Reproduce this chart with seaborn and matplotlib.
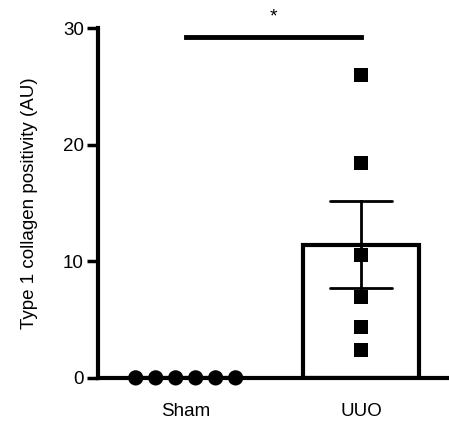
import pandas as pd
import numpy as np
import matplotlib
matplotlib.use("Agg")
import matplotlib.pyplot as plt
import seaborn as sns

# ============================================================
# DATA
# ============================================================

groups      = ["Sham", "UUO"]
sham_values = [0, 0, 0, 0, 0, 0]
uuo_values  = [26.0, 18.4, 10.5, 6.9, 4.4, 2.4]
y_ticks     = [0, 10, 20, 30]
y_label     = "Type 1 collagen positivity (AU)"
sig_pair    = ["Sham", "UUO"]
sig_level   = 29.2
sig_text    = "*"

df = pd.DataFrame({
    "group": ["Sham"] * len(sham_values) + ["UUO"] * len(uuo_values),
    "value": sham_values + uuo_values,
})

# ============================================================
# PLOT
# ============================================================

sns.set_theme(style="ticks")
plt.rcParams["font.family"]     = ["Liberation Sans", "DejaVu Sans"]
plt.rcParams["text.color"]      = "black"
plt.rcParams["axes.labelcolor"] = "black"
plt.rcParams["axes.edgecolor"]  = "black"
plt.rcParams["xtick.color"]     = "black"
plt.rcParams["ytick.color"]     = "black"

fig = plt.figure(figsize=(4.49, 4.26), dpi=100)
ax = fig.add_axes([0.218, 0.113, 0.782, 0.821])

sns.barplot(data=df, x="group", y="value", order=groups,
            errorbar="se", capsize=0.35, width=0.66,
            fill=False, color="black", linewidth=3,
            err_kws={"linewidth": 2, "color": "black"}, ax=ax)

ax.set_xlim(-0.5, 1.5)
ax.set_ylim(0, 30)

n_before = len(ax.collections)
sns.swarmplot(data=df[df["group"] == "Sham"], x="group", y="value",
              order=groups, marker="o", color="black", size=11,
              linewidth=2.7, edgecolor="none", ax=ax)
ax.set_xlim(-0.5, 1.5)
ax.set_ylim(0, 30)
fig.canvas.draw()  # swarm positions are computed at draw time

# freeze the swarm and centre it on its category
for coll in ax.collections[n_before:]:
    if "draw" in coll.__dict__:
        del coll.draw
    offs = np.array(coll.get_offsets())
    if len(offs):
        offs[:, 0] += groups.index("Sham") - offs[:, 0].mean()
        coll.set_offsets(offs)

sns.stripplot(data=df[df["group"] == "UUO"], x="group", y="value",
              order=groups, marker="s", color="black", size=10,
              jitter=False, linewidth=0, ax=ax)

for coll in ax.collections:
    if len(coll.get_offsets()):
        coll.set_clip_on(False)
        coll.set_zorder(5)

# significance bar
x_pos = [groups.index(g) for g in sig_pair]
ax.plot(x_pos, [sig_level, sig_level], color="black", linewidth=3.5,
        solid_capstyle="projecting", clip_on=False)
ax.text(np.mean(x_pos), sig_level + 1.0, sig_text, ha="center", va="bottom",
        fontsize=14)

ax.set_xlim(-0.5, 1.5)
ax.set_ylim(0, 30)
ax.set_yticks(y_ticks)
ax.set_xlabel("")
ax.set_ylabel(y_label, fontsize=13.5, labelpad=18)
ax.tick_params(axis="y", length=8, width=2.5, labelsize=13.5, pad=2)
ax.tick_params(axis="x", length=0, labelsize=13.5, pad=18)

sns.despine(ax=ax)
ax.spines["left"].set_linewidth(3)
ax.spines["bottom"].set_linewidth(3)

fig.savefig("out.png", dpi=100, facecolor="white")
plt.close(fig)
